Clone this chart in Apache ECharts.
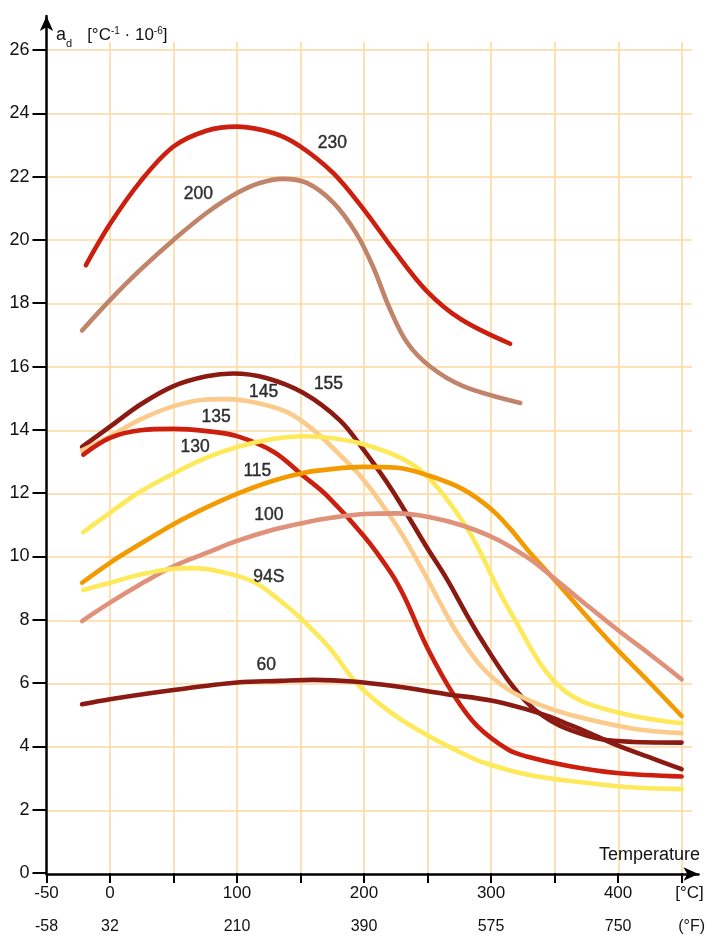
<!DOCTYPE html>
<html>
<head>
<meta charset="utf-8">
<title>Expansion coefficient</title>
<script src="https://cdn.jsdelivr.net/npm/echarts@6/dist/echarts.min.js"></script>
<style>
  html, body { margin: 0; padding: 0; background: #fff; }
  #chart { width: 708px; height: 935px; }
</style>
</head>
<body>
<div id="chart"></div>
<script>
// curves: [temperature °C, a_d]
var c230 = [[-19,19.2],[0,20.5],[24,21.85],[50,22.95],[76,23.45],[100,23.58],[129,23.37],[150,22.95],[176,22.1],[200,20.95],[223,19.7],[249,18.4],[276,17.5],[315,16.72]];
var c200 = [[-22,17.14],[0,18.1],[24,19.06],[50,20.0],[76,20.85],[100,21.48],[118,21.8],[136,21.93],[155,21.8],[176,21.17],[194,20.2],[207,19.16],[220,17.85],[234,16.75],[252,16.0],[278,15.38],[323,14.85]];
var c155 = [[-22,13.46],[0,14.1],[24,14.8],[50,15.38],[76,15.69],[97,15.78],[123,15.64],[152,15.17],[181,14.3],[200,13.35],[222,12.1],[250,10.25],[265,9.3],[281,8.15],[292,7.4],[313,6.12],[331,5.28],[347,4.81],[362,4.52],[386,4.23],[412,4.14],[450,4.12]];
var c145 = [[-22,13.35],[0,13.8],[24,14.33],[50,14.75],[76,14.96],[92,14.97],[116,14.85],[140,14.55],[160,14.0],[180,13.25],[200,12.4],[226,10.95],[245,9.65],[258,8.68],[273,7.6],[292,6.54],[313,5.81],[339,5.3],[362,5.0],[412,4.56],[450,4.42]];
var c135 = [[-21,13.22],[0,13.75],[24,13.99],[50,14.03],[76,13.96],[100,13.8],[129,13.3],[152,12.55],[170,11.95],[200,10.64],[221,9.49],[232,8.7],[250,7.1],[271,5.6],[289,4.65],[313,3.91],[328,3.68],[360,3.39],[399,3.16],[450,3.05]];
var c130 = [[-21,10.77],[0,11.38],[24,12.05],[50,12.62],[76,13.12],[102,13.48],[129,13.72],[152,13.8],[174,13.74],[200,13.54],[226,13.17],[247,12.64],[265,11.82],[281,10.9],[292,10.1],[307,8.85],[323,7.7],[339,6.6],[355,5.85],[373,5.4],[412,4.96],[450,4.73]];
var c115 = [[-22,9.17],[0,9.8],[24,10.4],[50,11.02],[76,11.55],[100,11.98],[129,12.4],[152,12.64],[174,12.76],[200,12.83],[226,12.8],[252,12.54],[278,12.12],[300,11.5],[315,10.88],[330,10.15],[352,9.17],[375,8.12],[399,7.07],[425,6.01],[450,4.96]];
var c100 = [[-22,7.96],[0,8.54],[24,9.12],[50,9.69],[76,10.11],[100,10.49],[129,10.85],[152,11.06],[174,11.22],[200,11.34],[226,11.36],[252,11.24],[278,10.97],[304,10.55],[330,9.93],[347,9.4],[373,8.54],[399,7.7],[425,6.91],[450,6.12]];
var c94S = [[-21,8.94],[0,9.17],[24,9.43],[50,9.61],[66,9.63],[87,9.52],[113,9.2],[134,8.6],[150,8.05],[173,7.1],[194,6.0],[212,5.35],[229,4.85],[249,4.37],[268,3.97],[294,3.49],[333,3.07],[373,2.86],[412,2.7],[450,2.65]];
var c60 = [[-22,5.33],[0,5.49],[50,5.78],[100,6.02],[134,6.07],[160,6.1],[191,6.05],[226,5.89],[265,5.65],[300,5.45],[328,5.17],[346,4.94],[362,4.68],[373,4.5],[399,4.04],[425,3.65],[450,3.28]];

var curveNames = ['230', '200', '155', '145', '135', '130', '115', '100', '94S', '60'];
var curveData = [c230, c200, c155, c145, c135, c130, c115, c100, c94S, c60];

var tickC = [-50, 0, 100, 200, 300, 400];
var tickF = ['-58', '32', '210', '390', '575', '750'];
var yTicks = [0, 2, 4, 6, 8, 10, 12, 14, 16, 18, 20, 22, 24, 26];

var RED = '#cc1f0f', MAROON = '#8b1a12', BROWN = '#c0846a', PEACH = '#fbcb8c',
    YELLOW = '#fde95a', ORANGE = '#f29a00', SALMON = '#e0917a';
var curveColors = [RED, BROWN, MAROON, PEACH, RED, YELLOW, ORANGE, SALMON, YELLOW, MAROON];

// where the curve names sit
var labelSpots = [[175, 23.07], [69.5, 21.46], [172, 15.43], [121, 15.18], [83.5, 14.4],
                  [67, 13.45], [116, 12.7], [125, 11.3], [125, 9.34], [123, 6.56]];

var font = 'Liberation Sans, Arial, Helvetica, sans-serif';
var gridColor = '#fdd9a2';

var chart = echarts.init(document.getElementById('chart'));

var series = curveData.map(function (d, i) {
  return {
    type: 'line',
    name: curveNames[i],
    xAxisIndex: 1,
    yAxisIndex: 1,
    data: d,
    smooth: 0.35,
    showSymbol: false,
    silent: true,
    z: 3,
    lineStyle: { width: 4.6, color: curveColors[i], cap: 'round', join: 'round' }
  };
});

series.push({
  type: 'scatter',
  xAxisIndex: 1,
  yAxisIndex: 1,
  symbolSize: 1,
  silent: true,
  z: 5,
  itemStyle: { color: 'rgba(0,0,0,0)' },
  data: labelSpots.map(function (p, i) { return [p[0], p[1], curveNames[i]]; }),
  label: {
    show: true,
    position: 'inside',
    formatter: function (p) { return p.data[2]; },
    color: '#000',
    fontFamily: font,
    fontSize: 17.5,
    textBorderColor: '#000',
    textBorderWidth: 0.4
  }
});

chart.setOption({
  animation: false,
  title: [
    {
      left: 51,
      top: 19,
      text: '{a|a}{d|d}   {b|[°C}{s|-1}{b| · 10}{s|-6}{b|]}',
      textStyle: {
        rich: {
          a: { fontFamily: font, fontSize: 18, fontWeight: 'normal', color: '#111', lineHeight: 22 },
          d: { fontFamily: font, fontSize: 11, fontWeight: 'normal', color: '#111', lineHeight: 22, verticalAlign: 'bottom', padding: [0, 0, -3, 0] },
          b: { fontFamily: font, fontSize: 17, fontWeight: 'normal', color: '#111', lineHeight: 22 },
          s: { fontFamily: font, fontSize: 10, fontWeight: 'normal', color: '#111', lineHeight: 22, verticalAlign: 'top', padding: [2, 0, 0, 0] }
        }
      }
    },
    {
      right: 3,
      top: 841,
      text: 'Temperature',
      textStyle: { fontFamily: font, fontSize: 18, fontWeight: 500, color: '#111' }
    }
  ],
  grid: [
    { left: 46.5, right: 9.5, top: 16, bottom: 61 },
    { left: 46.5, right: 26, top: 50, bottom: 61 },
    { left: 46.5, right: 16, top: 42, bottom: 61 }
  ],
  xAxis: [
    {
      // axis line with arrow
      gridIndex: 0, type: 'value', min: -50, max: 470,
      axisLine: { show: true, onZero: false, symbol: ['none', 'arrow'], symbolSize: [10, 15],
                  lineStyle: { color: '#000', width: 2.5 } },
      axisTick: { show: false }, axisLabel: { show: false }, splitLine: { show: false }
    },
    {
      gridIndex: 1, type: 'value', min: -50, max: 450, interval: 50,
      axisLine: { show: false, onZero: false },
      axisTick: { show: true, length: 10, lineStyle: { color: '#000', width: 2 } },
      axisLabel: {
        show: true,
        margin: 3,
        formatter: function (v) {
          if (v === 450) return '{cu|[°C]}\n{fu|(°F)}';
          var k = tickC.indexOf(v);
          if (k < 0) return '';
          return '{c|' + v + '}\n{f|' + tickF[k] + '}';
        },
        rich: {
          c: { fontFamily: font, fontSize: 17, color: '#111', lineHeight: 34 },
          f: { fontFamily: font, fontSize: 16, color: '#111', lineHeight: 34 },
          cu: { fontFamily: font, fontSize: 17, color: '#111', lineHeight: 34, padding: [0, 0, 0, 16] },
          fu: { fontFamily: font, fontSize: 16, color: '#111', lineHeight: 34, padding: [0, 0, 0, 20] }
        }
      },
      splitLine: { show: false }
    },
    {
      // grid lines only
      gridIndex: 2, type: 'value', min: -50, max: 458, interval: 50,
      axisLine: { show: false, onZero: false }, axisTick: { show: false }, axisLabel: { show: false },
      splitLine: { show: true, showMinLine: false, showMaxLine: false,
                   lineStyle: { color: gridColor, width: 1.6 } }
    }
  ],
  yAxis: [
    {
      gridIndex: 0, type: 'value', min: 0, max: 27.4,
      axisLine: { show: true, onZero: false, symbol: ['none', 'arrow'], symbolSize: [10, 15],
                  lineStyle: { color: '#000', width: 2.5 } },
      axisTick: { show: false }, axisLabel: { show: false }, splitLine: { show: false }
    },
    {
      gridIndex: 1, type: 'value', min: 0, max: 26, interval: 2,
      axisLine: { show: false, onZero: false },
      axisTick: { show: true, length: 14, lineStyle: { color: '#000', width: 2 } },
      axisLabel: {
        show: true, margin: 17, fontFamily: font, fontSize: 18, color: '#111',
        formatter: function (v) { return yTicks.indexOf(v) >= 0 ? String(v) : ''; }
      },
      splitLine: { show: false }
    },
    {
      gridIndex: 2, type: 'value', min: 0, max: 26.25, interval: 2,
      axisLine: { show: false, onZero: false }, axisTick: { show: false }, axisLabel: { show: false },
      splitLine: { show: true, showMinLine: false, showMaxLine: false,
                   lineStyle: { color: gridColor, width: 1.6 } }
    }
  ],
  series: series
});
</script>
</body>
</html>
